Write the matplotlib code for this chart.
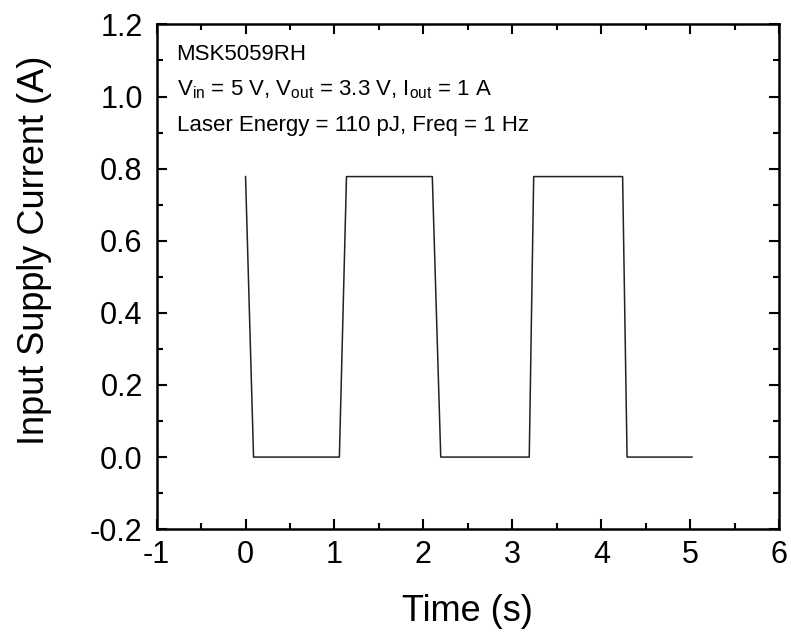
import matplotlib
matplotlib.use('Agg')
import matplotlib.pyplot as plt
from matplotlib.ticker import MultipleLocator

plt.rcParams['font.family'] = ['Liberation Sans', 'DejaVu Sans']
plt.rcParams['mathtext.fontset'] = 'custom'
plt.rcParams['mathtext.rm'] = 'Liberation Sans'
plt.rcParams['mathtext.it'] = 'Liberation Sans'
plt.rcParams['axes.unicode_minus'] = False

# Current trace (time in s, current in A)
tiempo = [0.0, 0.09, 1.055, 1.135, 2.10, 2.195, 3.19, 3.24, 4.24, 4.29, 5.02]
corriente = [0.778, 0.0, 0.0, 0.778, 0.778, 0.0, 0.0, 0.778, 0.778, 0.0, 0.0]

x_ticks = [-1, 0, 1, 2, 3, 4, 5, 6]
y_ticks = [-0.2, 0.0, 0.2, 0.4, 0.6, 0.8, 1.0, 1.2]

fig = plt.figure(figsize=(7.91, 6.43), dpi=100)
ax = fig.add_axes([0.198, 0.177, 0.787, 0.785])

ax.plot(tiempo, corriente, color='#222222', linewidth=1.1)

ax.set_xlim(-1, 6)
ax.set_ylim(-0.2, 1.2)
ax.set_xticks(x_ticks)
ax.set_yticks(y_ticks)
ax.set_xticklabels([str(t) for t in x_ticks])
ax.set_yticklabels([f'{t:.1f}' for t in y_ticks])
ax.xaxis.set_minor_locator(MultipleLocator(0.5))
ax.yaxis.set_minor_locator(MultipleLocator(0.1))

ax.tick_params(which='both', direction='in', top=True, right=True, width=1.5)
ax.tick_params(which='major', length=7, labelsize=22)
ax.tick_params(axis='y', which='major', pad=10)
ax.tick_params(axis='x', which='major', pad=8)
ax.tick_params(which='minor', length=4)
for s in ax.spines.values():
    s.set_linewidth(1.8)

ax.set_xlabel('Time (s)', fontsize=26)
ax.set_ylabel('Input Supply Current (A)', fontsize=26)
ax.xaxis.set_label_coords(0.5, -0.128)
ax.yaxis.set_label_coords(-0.168, 0.553)

# Anotaciones
tam = 16
ax.text(0.032, 0.94, 'MSK5059RH', transform=ax.transAxes, fontsize=tam, va='center')
ax.text(0.032, 0.87, r'V$_{\mathrm{in}}$ = 5 V, V$_{\mathrm{out}}$ = 3.3 V, I$_{\mathrm{out}}$ = 1 A',
        transform=ax.transAxes, fontsize=tam, va='center')
ax.text(0.032, 0.80, 'Laser Energy = 110 pJ, Freq = 1 Hz', transform=ax.transAxes,
        fontsize=tam, va='center')

fig.savefig('out.png', dpi=100)
